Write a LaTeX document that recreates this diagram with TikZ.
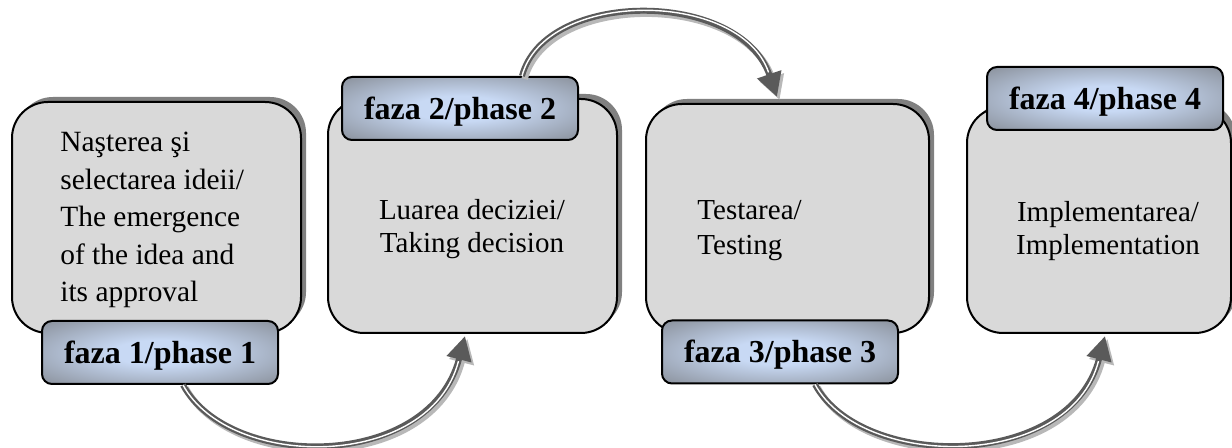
\documentclass[tikz,border=0pt]{standalone}
\usepackage{fontspec}
\setmainfont{Liberation Serif}
\usetikzlibrary{arrows.meta,shadows,calc}
\definecolor{boxfill}{HTML}{D9D9D9}
\definecolor{lblue}{HTML}{C8D9F4}
\definecolor{lgray}{HTML}{626262}
\definecolor{arrgray}{HTML}{5A5A5A}
\pgfdeclareradialshading{lblshade}{\pgfpoint{0bp}{0bp}}{color(0bp)=(lblue); color(10bp)=(lblue); color(52bp)=(lgray); color(100bp)=(lgray)}
\begin{document}
\begin{tikzpicture}[x=0.5pt,y=-0.5pt,
 phasebox/.style={draw=black, line width=1pt, fill=boxfill, rounded corners=18pt, inner sep=0pt,
   drop shadow={shadow xshift=2.5pt, shadow yshift=2.5pt, fill=black!50, opacity=1}},
 phaselabel/.style={draw=black, line width=1pt, shade, shading=lblshade, rounded corners=5pt, inner sep=0pt,
   minimum width=118pt, minimum height=31.5pt, font=\fontsize{16pt}{19pt}\selectfont\bfseries,
   text height=11pt, text depth=0pt},
 boxtext/.style={inner sep=0pt},
 flow/.style={draw=arrgray, line width=3pt, -{Triangle[width=12pt,length=12pt]},
   preaction={draw=black!28, line width=3.2pt, transform canvas={xshift=1.3pt,yshift=-1.5pt}},
   postaction={draw=white, line width=0.7pt, -, shorten >=13pt}}
]
\useasboundingbox (0,0) rectangle (1232,448);
\fill[white] (0,0) rectangle (1232,448);

% main boxes
\node[phasebox, minimum width=144.5pt, minimum height=115.5pt] (B1) at (156.5,217.5) {};
\node[phasebox, minimum width=144.5pt, minimum height=117pt] (B2) at (472.5,216) {};
\node[phasebox, minimum width=141.5pt, minimum height=114.5pt] (B3) at (787.5,218.5) {};
\node[phasebox, minimum width=132pt, minimum height=113pt] (B4) at (1099,220) {};

% texts
\node[boxtext, anchor=base west] (T1) at (60,152) {\fontsize{14.7pt}{18.75pt}\selectfont
  \begin{tabular}[t]{@{}l@{}}Naşterea şi\\selectarea ideii/\\The emergence\\of the idea and\\its approval\end{tabular}};
\node[boxtext, anchor=base] (T2) at (472,220) {\fontsize{14.5pt}{16.5pt}\selectfont
  \begin{tabular}[t]{@{}c@{}}Luarea deciziei/\\Taking decision\end{tabular}};
\node[boxtext, anchor=base west] (T3) at (697,220) {\fontsize{14.5pt}{17.5pt}\selectfont
  \begin{tabular}[t]{@{}l@{}}Testarea/\\Testing\end{tabular}};
\node[boxtext, anchor=base] (T4) at (1108,222) {\fontsize{14.5pt}{16.5pt}\selectfont
  \begin{tabular}[t]{@{}c@{}}Implementarea/\\Implementation\end{tabular}};

% labels
\node[phaselabel] (L1) at (160,352.5) {faza 1/phase 1};
\node[phaselabel] (L2) at (460,108.5) {faza 2/phase 2};
\node[phaselabel] (L3) at (780,352) {faza 3/phase 3};
\node[phaselabel] (L4) at (1105,98.5) {faza 4/phase 4};

% connectors
\coordinate (a1s) at ($(L1.south)+(23,0)$);
\coordinate (a1e) at ($(B2.south)+(-7.5,2)$);
\coordinate (a2s) at ($(L2.north)+(62,0)$);
\coordinate (a2e) at ($(B3.north)+(-10.5,-6)$);
\coordinate (a3s) at ($(L3.south)+(35,0)$);
\coordinate (a3e) at ($(B4.south)+(6,2)$);
\draw[flow] (a1s) .. controls +(47,86) and +(-35,135) .. (a1e);
\draw[flow] (a2s) .. controls +(23,-87) and +(-37,-108) .. (a2e);
\draw[flow] (a3s) .. controls +(47,86) and +(-35,135) .. (a3e);
\end{tikzpicture}
\end{document}
